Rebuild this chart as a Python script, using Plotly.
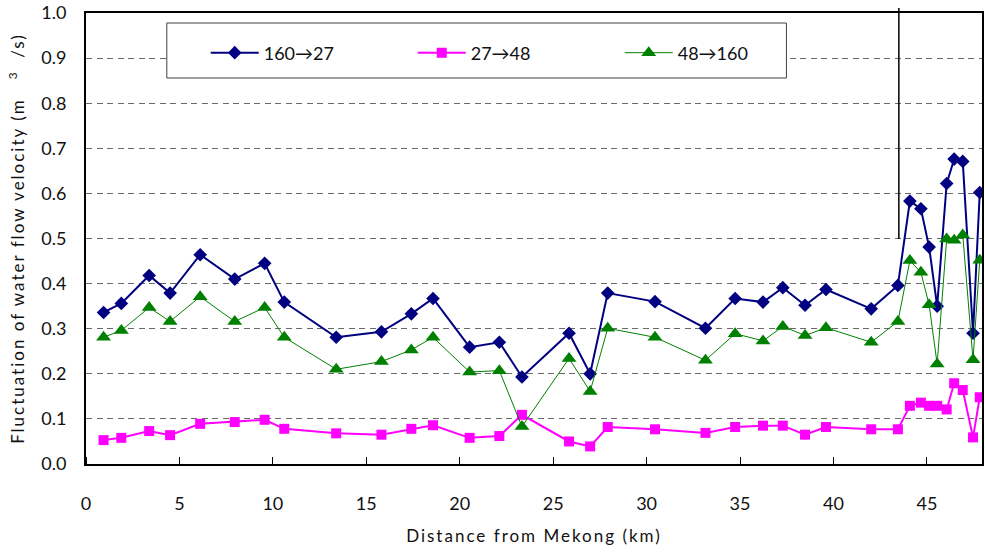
import plotly.graph_objects as go

# Distance along the channel (km) for each measuring section
distance_km = [0.94, 1.89, 3.38, 4.50, 6.11, 7.96, 9.56, 10.61, 13.39, 15.81,
               17.41, 18.57, 20.53, 22.12, 23.33, 25.85, 26.98, 27.92, 30.45, 33.15,
               34.74, 36.23, 37.29, 38.48, 39.60, 42.02, 43.45, 44.09, 44.68, 45.12,
               45.55, 46.06, 46.46, 46.92, 47.47, 47.83]

# Fluctuation of flow velocity for each water-level transition
v_160_27 = [0.336, 0.356, 0.418, 0.379, 0.464, 0.410, 0.445, 0.359, 0.281, 0.293,
            0.333, 0.367, 0.259, 0.270, 0.193, 0.290, 0.200, 0.379, 0.360, 0.301,
            0.367, 0.359, 0.391, 0.352, 0.387, 0.344, 0.396, 0.583, 0.566, 0.481,
            0.350, 0.622, 0.676, 0.671, 0.290, 0.602]
v_27_48 = [0.053, 0.058, 0.073, 0.064, 0.089, 0.093, 0.098, 0.078, 0.068, 0.065,
           0.078, 0.086, 0.058, 0.062, 0.109, 0.050, 0.039, 0.082, 0.077, 0.069,
           0.082, 0.085, 0.085, 0.065, 0.082, 0.077, 0.077, 0.129, 0.136, 0.129,
           0.129, 0.121, 0.179, 0.164, 0.059, 0.148]
v_48_160 = [0.281, 0.296, 0.347, 0.316, 0.371, 0.316, 0.347, 0.281, 0.210, 0.227,
            0.253, 0.281, 0.204, 0.207, 0.083, 0.234, 0.161, 0.301, 0.281, 0.230,
            0.289, 0.273, 0.305, 0.285, 0.302, 0.270, 0.316, 0.451, 0.425, 0.353,
            0.222, 0.499, 0.496, 0.508, 0.231, 0.452]

series_names = ["160→27", "27→48", "48→160"]
x_ticks = [0, 5, 10, 15, 20, 25, 30, 35, 40, 45]
y_ticks = [0.0, 0.1, 0.2, 0.3, 0.4, 0.5, 0.6, 0.7, 0.8, 0.9, 1.0]

FONT = "Lato"
W, H = 985, 554
M = dict(l=86, r=1, t=13, b=90)

fig = go.Figure()
fig.add_trace(go.Scatter(
    x=distance_km, y=v_160_27, name=series_names[0], mode="lines+markers",
    line=dict(color="#000080", width=2),
    marker=dict(symbol="diamond", size=10.5, color="#000080"),
))
fig.add_trace(go.Scatter(
    x=distance_km, y=v_27_48, name=series_names[1], mode="lines+markers",
    line=dict(color="#FF00FF", width=2),
    marker=dict(symbol="square", size=10, color="#FF00FF"),
))
fig.add_trace(go.Scatter(
    x=distance_km, y=v_48_160, name=series_names[2], mode="lines+markers",
    line=dict(color="#008000", width=1),
    marker=dict(symbol="triangle-up", size=13, color="#008000"),
))

plot_w = W - M["l"] - M["r"]
plot_h = H - M["t"] - M["b"]

def px_x(p):
    return (p - M["l"]) / plot_w

def px_y(p):
    return (H - M["b"] - p) / plot_h

# Legend frame (white fill hides the grid behind it)
fig.add_shape(type="rect", xref="paper", yref="paper",
              x0=px_x(167), x1=px_x(788), y0=px_y(78), y1=px_y(23),
              line=dict(color="#404040", width=1), fillcolor="white", layer="above")

# Vertical marker line near the upstream end
fig.add_shape(type="line", xref="x", yref="paper",
              x0=43.5, x1=43.5, y0=px_y(239), y1=px_y(8),
              line=dict(color="black", width=1.5), layer="above")

fig.update_layout(
    width=W, height=H, margin=M,
    paper_bgcolor="white", plot_bgcolor="white",
    font=dict(family=FONT, size=18, color="#111111"),
    showlegend=True,
    legend=dict(
        orientation="h", x=px_x(206), y=px_y(53), xanchor="left", yanchor="middle",
        bgcolor="rgba(0,0,0,0)", borderwidth=0,
        font=dict(family=FONT, size=18, color="#111111"),
        entrywidth=144, entrywidthmode="pixels",
        itemwidth=48,
    ),
    xaxis=dict(
        range=[0, 47.95], tickvals=x_ticks,
        ticks="outside", ticklen=22, tickcolor="rgba(0,0,0,0)",
        minor=dict(tickvals=x_ticks, ticks="inside", ticklen=7,
                   tickcolor="black", tickwidth=1, showgrid=False),
        showgrid=False, zeroline=False,
        showline=True, linecolor="black", linewidth=2, mirror=True,
        tickfont=dict(family=FONT, size=18),
        title=dict(text="Distance from Mekong (km)", standoff=18,
                   font=dict(family=FONT, size=17)),
    ),
    yaxis=dict(
        range=[0, 1.0], tickvals=y_ticks, tickformat=".1f", ticks="",
        showgrid=True, gridcolor="#6a6a6a", gridwidth=1, griddash="6px,4.5px",
        zeroline=False, showline=True, linecolor="black", linewidth=2, mirror=True,
        ticklabelstandoff=14,
        tickfont=dict(family=FONT, size=18),
        title=dict(text="Fluctuation of water flow velocity (m&nbsp;&nbsp;&nbsp;<sup>3</sup>&nbsp;&nbsp;/s)",
                   standoff=12, font=dict(family=FONT, size=17)),
    ),
)

# Slightly open letter spacing on the axis titles
spacing_js = """
document.querySelectorAll('.g-xtitle text, .g-ytitle text').forEach(function (t) {
    t.style.letterSpacing = '2px';
});
"""

fig.write_html("out.html", post_script=spacing_js)
